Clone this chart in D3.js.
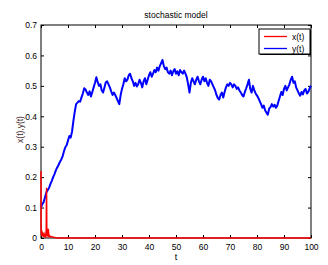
<!DOCTYPE html>
<html>
<head>
<meta charset="utf-8">
<script src="https://cdn.jsdelivr.net/npm/d3@7"></script>
<style>
  body { margin: 0; background: #fff; }
  text { font-family: "Liberation Sans", Arial, sans-serif; }
  .axis text { font-size: 8.5px; fill: #000; }
  .axis line { stroke: #000; }
</style>
</head>
<body>
<div id="chart"></div>
<script>
// DATA ------------------------------
const xTicks = [0, 10, 20, 30, 40, 50, 60, 70, 80, 90, 100];
const yTicks = [0, 0.1, 0.2, 0.3, 0.4, 0.5, 0.6, 0.7];

// y(t) sampled every 0.5 from t = 0 to 100
const yStep = 0.5;
const yValues = [
  0.100, 0.112, 0.118, 0.135, 0.150, 0.158, 0.165, 0.178, 0.188, 0.200,
  0.210, 0.222, 0.232, 0.240, 0.250, 0.258, 0.268, 0.285, 0.298, 0.305,
  0.320, 0.335, 0.330, 0.350, 0.385, 0.415, 0.440, 0.445, 0.450, 0.448,
  0.462, 0.475, 0.492, 0.488, 0.478, 0.470, 0.482, 0.465, 0.480, 0.495,
  0.510, 0.528, 0.512, 0.500, 0.505, 0.485, 0.478, 0.495, 0.512, 0.515,
  0.505, 0.495, 0.482, 0.470, 0.478, 0.470, 0.460, 0.450, 0.440, 0.470,
  0.490, 0.505, 0.525, 0.515, 0.520, 0.535, 0.540, 0.525, 0.515, 0.500,
  0.510, 0.498, 0.505, 0.520, 0.510, 0.495, 0.515, 0.525, 0.505, 0.520,
  0.535, 0.545, 0.530, 0.540, 0.552, 0.545, 0.560, 0.550, 0.565, 0.575,
  0.585, 0.565, 0.555, 0.560, 0.545, 0.540, 0.550, 0.535, 0.548, 0.555,
  0.540, 0.548, 0.535, 0.552, 0.545, 0.540, 0.550, 0.540, 0.528, 0.505,
  0.478, 0.510, 0.525, 0.515, 0.505, 0.520, 0.530, 0.515, 0.505, 0.520,
  0.530, 0.515, 0.525, 0.510, 0.500, 0.520, 0.515, 0.505, 0.495, 0.485,
  0.470, 0.460, 0.455, 0.470, 0.478, 0.462, 0.480, 0.495, 0.505, 0.500,
  0.510, 0.505, 0.495, 0.505, 0.500, 0.490, 0.495, 0.485, 0.478, 0.470,
  0.465, 0.480, 0.492, 0.505, 0.520, 0.490, 0.478, 0.500, 0.485, 0.475,
  0.468, 0.460, 0.450, 0.440, 0.428, 0.435, 0.420, 0.412, 0.405, 0.425,
  0.430, 0.440, 0.432, 0.438, 0.428, 0.435, 0.450, 0.465, 0.480, 0.470,
  0.490, 0.500, 0.485, 0.495, 0.505, 0.520, 0.530, 0.510, 0.515, 0.495,
  0.485, 0.475, 0.468, 0.480, 0.472, 0.485, 0.490, 0.475, 0.480, 0.492,
  0.500
];

// x(t): spikes near the start, then zero
const xTimes = [0, 0.05, 0.15, 0.25, 0.35, 0.5, 0.65, 0.8, 1.0, 1.2, 1.4, 1.6, 1.8,
  1.95, 2.05, 2.15, 2.3, 2.5, 2.7, 2.9, 3.1, 3.4, 3.8, 4.2, 5, 6, 100];
const xValues = [0.22, 0.03, 0.01, 0.025, 0.005, 0.02, 0.008, 0.015, 0.004, 0.012, 0.006, 0.004, 0.01,
  0.03, 0.165, 0.02, 0.008, 0.012, 0.03, 0.006, 0.008, 0.004, 0.005, 0.003, 0.002, 0, 0];

const seriesNames = ["x(t)", "y(t)"];
const seriesColors = ["#ff0000", "#0000ff"];

// CHART ------------------------------
const margin = {top: 25, right: 17, bottom: 27, left: 41};
const width = 328 - margin.left - margin.right,
      height = 265 - margin.top - margin.bottom;

const svg = d3.select("#chart")
  .append("svg")
  .attr("width", 328)
  .attr("height", 265)
  .append("g")
  .attr("transform", `translate(${margin.left},${margin.top})`);

const xScale = d3.scaleLinear().domain([0, 100]).range([0, width]);
const yScale = d3.scaleLinear().domain([0, 0.7]).range([height, 0]);

const yData = yValues.map((v, i) => ({t: i * yStep, v: v}));
const xData = xTimes.map((t, i) => ({t: t, v: xValues[i]}));

const line = d3.line()
  .x(d => xScale(d.t))
  .y(d => yScale(d.v));

// axes, ticks pointing inward like matlab
svg.append("g")
  .attr("class", "axis")
  .attr("transform", `translate(0,${height})`)
  .call(d3.axisBottom(xScale).tickValues(xTicks).tickSize(-3).tickPadding(6))
  .call(g => g.select(".domain").remove());

svg.append("g")
  .attr("class", "axis")
  .call(d3.axisTop(xScale).tickValues(xTicks).tickSize(-3).tickFormat(""))
  .call(g => g.select(".domain").remove());

svg.append("g")
  .attr("class", "axis")
  .call(d3.axisLeft(yScale).tickValues(yTicks).tickSize(-3).tickPadding(4)
    .tickFormat(d => d === 0 ? "0" : d3.format(".1f")(d)))
  .call(g => g.select(".domain").remove());

svg.append("g")
  .attr("class", "axis")
  .attr("transform", `translate(${width},0)`)
  .call(d3.axisRight(yScale).tickValues(yTicks).tickSize(-3).tickFormat(""))
  .call(g => g.select(".domain").remove());

// box
svg.append("rect")
  .attr("width", width)
  .attr("height", height)
  .attr("fill", "none")
  .attr("stroke", "#000")
  .attr("stroke-width", 1);

// lines
svg.append("path")
  .datum(yData)
  .attr("fill", "none")
  .attr("stroke", seriesColors[1])
  .attr("stroke-width", 2)
  .attr("stroke-linejoin", "round")
  .attr("d", line);

svg.append("path")
  .datum(xData)
  .attr("fill", "none")
  .attr("stroke", seriesColors[0])
  .attr("stroke-width", 1.5)
  .attr("d", line);

// title and labels
svg.append("text")
  .attr("x", width / 2)
  .attr("y", -7)
  .attr("text-anchor", "middle")
  .style("font-size", "8.5px")
  .attr("fill", "#000")
  .text("stochastic model");

svg.append("text")
  .attr("x", width / 2)
  .attr("y", height + 22)
  .attr("text-anchor", "middle")
  .style("font-size", "9px")
  .attr("fill", "#000")
  .text("t");

svg.append("text")
  .attr("transform", `translate(${-18},${height / 2 - 2}) rotate(-90)`)
  .attr("text-anchor", "middle")
  .style("font-size", "8.5px")
  .attr("fill", "#3a1a1a")
  .text("x(t),y(t)");

// legend
const legend = svg.append("g")
  .attr("transform", `translate(${width - 52},4)`);

legend.append("rect")
  .attr("x", 1).attr("y", 1)
  .attr("width", 51).attr("height", 25)
  .attr("fill", "#000");

legend.append("rect")
  .attr("width", 51).attr("height", 25)
  .attr("fill", "#fff")
  .attr("stroke", "#000")
  .attr("stroke-width", 1);

seriesNames.forEach((name, i) => {
  const yy = 7.5 + i * 12;
  legend.append("line")
    .attr("x1", 5).attr("x2", 28)
    .attr("y1", yy).attr("y2", yy)
    .attr("stroke", seriesColors[i])
    .attr("stroke-width", 1.3);
  legend.append("text")
    .attr("x", 33)
    .attr("y", yy + 3)
    .style("font-size", "8.5px")
    .attr("fill", "#000")
    .text(name);
});
</script>
</body>
</html>
